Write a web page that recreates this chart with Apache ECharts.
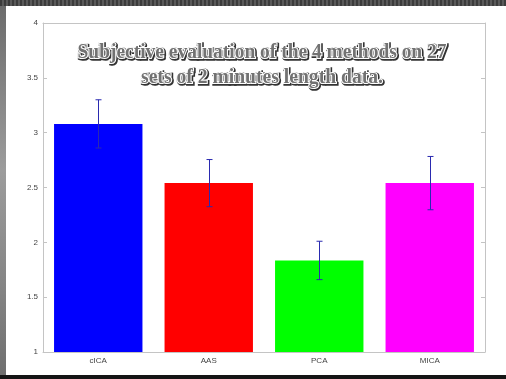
<!DOCTYPE html>
<html>
<head>
<meta charset="utf-8">
<script src="https://cdn.jsdelivr.net/npm/echarts@6/dist/echarts.min.js"></script>
<style>
  html, body { margin: 0; padding: 0; }
  body {
    width: 506px; height: 379px; overflow: hidden; position: relative;
    background: linear-gradient(180deg, #6a6a6a 0%, #9c9c9c 45%, #858585 75%, #6e6e6e 100%);
  }
  #topband { position: absolute; left: 0; top: 0; width: 506px; height: 6px;
    background: repeating-linear-gradient(90deg, #3c3c3c 0 2px, #5a5a5a 2px 4px); }
  #bottomband { position: absolute; left: 0; top: 375px; width: 506px; height: 4px; background: #151515; }
  #chart { position: absolute; left: 6px; top: 6px; width: 500px; height: 369px; background: #ffffff; }
</style>
</head>
<body>
<div id="topband"></div>
<div id="bottomband"></div>
<div id="chart"></div>
<script>
// Mean subjective scores and their error half-widths per method
const categories = ['cICA', 'AAS', 'PCA', 'MICA'];
const means = [3.08, 2.54, 1.835, 2.54];
const errors = [0.22, 0.215, 0.175, 0.243];
const barColors = ['#0000ff', '#ff0000', '#00ff00', '#ff00ff'];
const titleLines = ['Subjective evaluation of the 4 methods on 27', 'sets of 2 minutes length data.'];

const chart = echarts.init(document.getElementById('chart'), null, { renderer: 'canvas' });

const axisGray = '#c4c4c4';
const labelStyle = { color: '#444', fontSize: 8, fontFamily: 'Liberation Sans, Arial, sans-serif' };

// Title font, horizontally squeezed so each line spans its box width
const titleFont = 'bold 20px "Liberation Serif", "Times New Roman", serif';
const titleWidths = [369, 242];
const measureCtx = document.createElement('canvas').getContext('2d');
measureCtx.font = titleFont;
const titleScale = titleLines.map((t, i) => titleWidths[i] / measureCtx.measureText(t).width);

const titleGraphics = [];
titleLines.forEach((t, i) => {
  const base = { type: 'text', x: 256, y: 47 + i * 25, scaleX: titleScale[i] };
  // dark drop outline
  titleGraphics.push(Object.assign({}, base, {
    x: 257, y: 48 + i * 25, z: 99,
    style: {
      text: t, font: titleFont, textAlign: 'center', textVerticalAlign: 'middle',
      fill: '#333333', stroke: '#333333', lineWidth: 3.5,
      shadowColor: 'rgba(0,0,0,0.5)', shadowBlur: 2
    }
  }));
  // grey letters with a white rim
  titleGraphics.push(Object.assign({}, base, {
    z: 100,
    style: {
      text: t, font: titleFont, textAlign: 'center', textVerticalAlign: 'middle',
      fill: '#727272', stroke: '#ffffff', lineWidth: 2.2, strokeFirst: true
    }
  }));
});

const option = {
  animation: false,
  backgroundColor: '#ffffff',
  grid: { left: 37, top: 17, width: 442, height: 329, containLabel: false },
  xAxis: [
    {
      type: 'category', data: categories, position: 'bottom',
      axisLine: { lineStyle: { color: axisGray, width: 1 } },
      axisTick: { inside: true, length: 4, alignWithLabel: true, lineStyle: { color: axisGray } },
      axisLabel: Object.assign({ margin: 5 }, labelStyle)
    },
    {
      type: 'category', data: categories, position: 'top',
      axisLine: { lineStyle: { color: axisGray, width: 1 } },
      axisTick: { inside: true, length: 4, alignWithLabel: true, lineStyle: { color: axisGray } },
      axisLabel: { show: false }
    }
  ],
  yAxis: [
    {
      type: 'value', min: 1, max: 4, interval: 0.5, position: 'left',
      axisLine: { show: true, lineStyle: { color: axisGray, width: 1 } },
      axisTick: { show: true, inside: true, length: 4, lineStyle: { color: axisGray } },
      splitLine: { show: false },
      axisLabel: Object.assign({ margin: 5 }, labelStyle)
    },
    {
      type: 'value', min: 1, max: 4, interval: 0.5, position: 'right',
      axisLine: { show: true, lineStyle: { color: axisGray, width: 1 } },
      axisTick: { show: true, inside: true, length: 4, lineStyle: { color: axisGray } },
      splitLine: { show: false },
      axisLabel: { show: false }
    }
  ],
  series: [
    {
      type: 'bar',
      barWidth: '80%',
      data: means.map((v, i) => ({ value: v, itemStyle: { color: barColors[i] } })),
      z: 2
    },
    {
      // Error bars: vertical whisker with short caps at mean ± error
      type: 'custom',
      z: 5,
      data: means.map((m, i) => [i, m - errors[i], m + errors[i]]),
      renderItem: function (params, api) {
        const lo = api.coord([api.value(0), api.value(1)]);
        const hi = api.coord([api.value(0), api.value(2)]);
        const x = Math.round(lo[0]) + 0.5;
        const cap = 3;
        const style = { stroke: '#2a2ab0', lineWidth: 1, fill: null };
        return {
          type: 'group',
          children: [
            { type: 'line', shape: { x1: x, y1: hi[1], x2: x, y2: lo[1] }, style: style },
            { type: 'line', shape: { x1: x - cap, y1: hi[1], x2: x + cap, y2: hi[1] }, style: style },
            { type: 'line', shape: { x1: x - cap, y1: lo[1], x2: x + cap, y2: lo[1] }, style: style }
          ]
        };
      }
    }
  ],
  graphic: titleGraphics
};

chart.setOption(option);
</script>
</body>
</html>
